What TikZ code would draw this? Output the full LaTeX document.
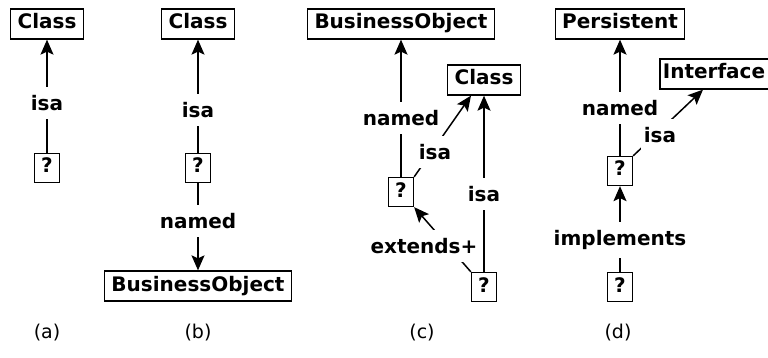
\documentclass[tikz,border=0pt]{standalone}
\usepackage{fontspec}
\setmainfont{DejaVu Sans}
\usetikzlibrary{arrows.meta}
\begin{document}
\begin{tikzpicture}[x=1pt,y=-1pt,
  box/.style={draw, line width=1.3pt, font=\fontsize{20}{24}\selectfont\bfseries,
    inner xsep=7pt, inner ysep=0pt, text height=15pt, text depth=5pt, minimum height=30pt},
  qbox/.style={box, minimum width=25pt, inner xsep=0pt, minimum height=29pt},
  lbl/.style={fill=white, font=\fontsize{20}{24}\selectfont\bfseries, inner xsep=3pt, inner ysep=8pt},
  conn/.style={line width=1.5pt},
  arr/.style={conn, -{Stealth[length=15pt,width=13pt,inset=3pt]}},
  captxt/.style={font=\fontsize{19}{23}\selectfont, inner sep=0pt, anchor=north}
]
\useasboundingbox (0,0) rectangle (768,358);
% (a)
\node[box]  (aC) at (47,24) {Class};
\node[qbox] (aQ) at (47,168) {?};
% (b)
\node[box]  (bC) at (198,24) {Class};
\node[qbox] (bQ) at (198,168) {?};
\node[box]  (bB) at (198,286) {BusinessObject};
% (c)
\node[box]  (cB) at (401,24) {BusinessObject};
\node[box]  (cC) at (484,80) {Class};
\node[qbox] (cQ1) at (401,192) {?};
\node[qbox] (cQ2) at (484,287) {?};
% (d)
\node[box]  (dP) at (620,24) {Persistent};
\node[box, inner xsep=3pt] (dI) at (714,74) {Interface};
\node[qbox] (dQ1) at (620,171) {?};
\node[qbox] (dQ2) at (620,287) {?};
% connectors
\draw[arr] (aQ) -- (aC);
\draw[arr] (bQ) -- (bC);
\draw[arr] (bQ) -- (bB);
\draw[arr] (cQ1) -- (cB);
\draw[arr] (cQ1.north east) -- ([xshift=-13pt]cC.south);
\draw[arr] (cQ2) -- (cC);
\draw[arr] (cQ2.north west) -- (cQ1.south east);
\draw[arr] (dQ1) -- (dP);
\draw[arr] (dQ1.north east) -- ([xshift=-11pt]dI.south);
\draw[arr] (dQ2) -- (dQ1);
% labels
\node[lbl] (la1) at (47,103) {isa};
\node[lbl] (lb1) at (198,110) {isa};
\node[lbl] (lb2) at (198,221) {named};
\node[lbl] (lc1) at (401,118) {named};
\node[lbl] (lc2) at (435,152) {isa};
\node[lbl] (lc3) at (484,194) {isa};
\node[lbl] (lc4) at (424,246) {extends+};
\node[lbl] (ld1) at (620,108) {named};
\node[lbl] (ld2) at (660,135) {isa};
\node[lbl] (ld3) at (620,240) {implements};
% captions
\node[captxt] (capa) at (47,324) {(a)};
\node[captxt] (capb) at (198,324) {(b)};
\node[captxt] (capc) at (422,324) {(c)};
\node[captxt] (capd) at (618,324) {(d)};
\end{tikzpicture}
\end{document}
